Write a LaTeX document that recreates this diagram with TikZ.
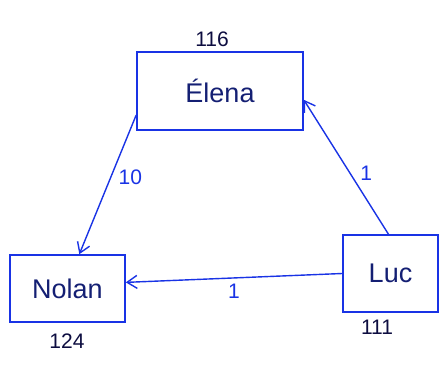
\documentclass[tikz,border=0pt]{standalone}
\usepackage{fontspec}
\setmainfont{Liberation Sans}
\usetikzlibrary{arrows.meta}
\definecolor{penblue}{rgb}{0.1,0.2,0.9}
\definecolor{inkname}{rgb}{0.08,0.12,0.45}
\definecolor{inknum}{rgb}{0.05,0.05,0.25}
\begin{document}
\begin{tikzpicture}[x=1pt,y=1pt,
  person/.style={draw=penblue,line width=1.6pt,rectangle,inner sep=0pt,text=inkname,font=\fontsize{27}{30}\selectfont},
  link/.style={draw=penblue,line width=1.4pt,-{Straight Barb[length=10pt,width=13pt,line width=1.4pt]}},
  weight/.style={text=penblue,font=\fontsize{21}{24}\selectfont},
  score/.style={text=inknum,font=\fontsize{21}{24}\selectfont}]
\useasboundingbox (0,0) rectangle (446,365);
\node[person,minimum width=166pt,minimum height=78pt] (elena) at (220,274) {Élena};
\node[person,minimum width=115pt,minimum height=67pt] (nolan) at (67.5,76.5) {Nolan};
\node[person,minimum width=95pt,minimum height=77pt] (luc) at (390.5,91.5) {Luc};
\draw[link] (elena.196.7) -- node[weight,pos=0.45,right=4pt] (w10) {10} (nolan.71.6);
\draw[link] (luc.93.4) -- node[weight,pos=0.45,right=6pt] (w1a) {1} (elena.354);
\draw[link] (luc.180) -- node[weight,pos=0.5,below=2pt] (w1b) {1} (nolan.6.4);
\node[score] (s116) at (212,326) {116};
\node[score] (s124) at (67,24) {124};
\node[score] (s111) at (377,38) {111};
\end{tikzpicture}
\end{document}
